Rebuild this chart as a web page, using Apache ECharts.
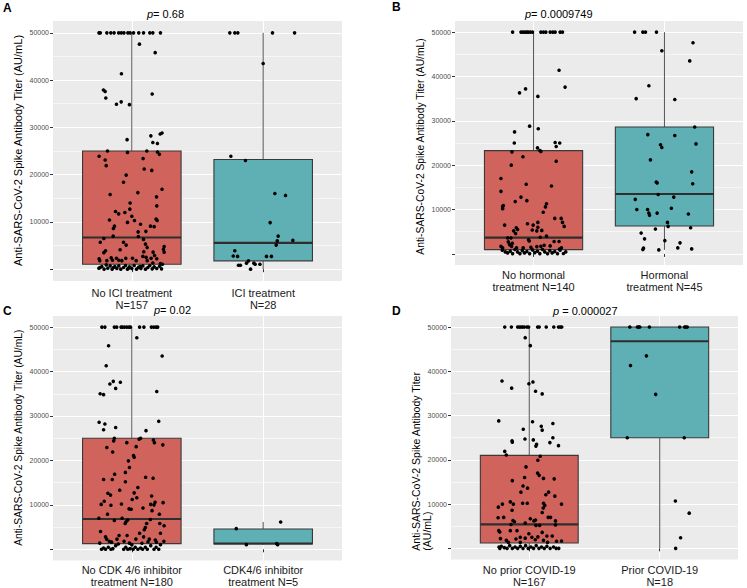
<!DOCTYPE html>
<html><head><meta charset="utf-8">
<script src="https://cdn.jsdelivr.net/npm/echarts@6/dist/echarts.min.js"></script>
<style>html,body{margin:0;padding:0;background:#fff}#c{width:747px;height:588px}</style>
</head><body><div id="c"></div>
<script>
// ---------- DATA ----------
const catsA = ['No ICI treatment\nN=157', 'ICI treatment\nN=28'];
const catsB = ['No hormonal\ntreatment N=140', 'Hormonal\ntreatment N=45'];
const catsC = ['No CDK 4/6 inhibitor\ntreatment N=180', 'CDK4/6 inhibitor\ntreatment N=5'];
const catsD = ['No prior COVID-19\nN=167', 'Prior COVID-19\nN=18'];
const pTexts = ['0.68', '0.0009749', '0.02', '0.000027'];
const yTicks = [0, 10000, 20000, 30000, 40000, 50000];
const yTickLabels = ['', '10000', '20000', '30000', '40000', '50000'];
const yMinor = [5000, 15000, 25000, 35000, 45000];
// box stats: [lower, q1, median, q3, upper] per group
const boxA = [[0, 1050, 6700, 25000, 50000], [0, 1760, 5560, 23200, 50000]];
const boxB = [[0, 975, 3680, 23270, 50000], [900, 6300, 13500, 28600, 50000]];
const boxC = [[0, 1270, 6820, 25000, 50000], [1050, 1200, 1300, 4570, 6150]];
const boxD = [[0, 1200, 5400, 21000, 50000], [0, 25000, 46800, 50000, 50000]];
// jittered points: [horizontal jitter (category units), titer]
const ptsA1 = [[-0.25,50000],[-0.24,50000],[-0.19,50000],[-0.16,50000],[-0.135,50000],[-0.1,50000],[-0.08,50000],[-0.06,50000],[-0.03,50000],[-0.013,50000],[0.013,50000],[0.053,50000],[0.089,50000],[0.137,50000],[0.16,50000],[0.218,50000],
[0.058,47600],[0.178,45800],[-0.079,41350],[-0.216,37900],[-0.203,37600],[-0.198,36200],[0.155,37060],[-0.117,34900],[-0.081,35400],[-0.018,34800],[-0.036,27400],[0.145,28200],[0.16,26800],[0.195,26600],[0.216,28600],[0.23,28800],
[-0.185,25000],[-0.033,24700],[0.114,25000],[0.195,24800],[0.21,24300],[-0.249,23900],[-0.203,23100],[-0.195,21900],[0.086,23400],[0.094,21200],[0.152,20900],[-0.043,19900],[-0.063,18400],[0.23,16900],[0.046,16200],[-0.165,15800],
[0.188,15300],[0.19,13400],[-0.013,14000],[-0.015,12700],[-0.124,12200],[-0.1,11700],[-0.053,12000],[0,11200],[-0.17,10400],[0.02,10300],[-0.033,9900],[0.185,10600],[0.193,10300],[-0.132,9100],[-0.14,8600],[0.066,9500],
[0.142,9100],[0.17,9000],[0.107,8000],[0.048,7900],[-0.142,7000],[0.05,6900],[-0.213,6500],[-0.24,5700],[-0.063,5700],[-0.043,5100],[0.089,6300],[0.104,5300],[0.117,4600],[0.246,4800],[0.241,4200],[-0.2,3900],
[-0.213,3500],[-0.089,4100],[0.091,3700],[0.162,3600],[0.173,2900],[0.246,3600],[-0.249,2200],[-0.244,1800],[-0.19,1800],[-0.157,2400],[-0.147,1900],[-0.117,2300],[-0.099,1900],[-0.046,2300],[0.005,2300],[0.033,1800],
[0.084,2700],[0.109,2500],[0.147,2300],[0.19,2200],[0.218,1200],[0.233,1050],[-0.076,1800],[0.117,1800],[0.16,1300],
[-0.251,210],[-0.228,560],[-0.211,0],[-0.195,910],[-0.183,210],[-0.165,700],[-0.15,0],[-0.129,560],[-0.114,140],[-0.099,700],[-0.084,0],[-0.063,350],[-0.048,770],[-0.033,0],[-0.018,490],[0,140],
[0.018,770],[0.036,0],[0.051,420],[0.069,140],[0.084,700],[0.104,0],[0.122,350],[0.137,770],[0.155,70],[0.17,490],[0.19,140],[0.211,630],[0.226,70],[-0.241,350],[-0.14,350],[-0.025,210],[0.063,560]];
const ptsA2 = [[-0.254,50000],[-0.216,50000],[-0.193,50000],[0.071,50000],[0.239,50000],[0,43500],[-0.246,23900],[-0.135,23000],[0.089,16000],[0.17,15600],[0.053,9850],[0.114,7000],[0.107,6000],[0.099,5100],[0.226,6100],
[-0.216,3900],[-0.228,2800],[-0.195,2700],[0.025,2700],[0.063,2700],[-0.188,840],[-0.173,840],[-0.127,1270],[-0.112,1760],[-0.071,1270],[-0.061,1050],[-0.096,0],[-0.025,1050]];
const ptsB1 = [[-0.16,50000],[-0.096,50000],[-0.081,50000],[-0.066,50000],[-0.051,50000],[-0.041,50000],[-0.025,50000],[-0.008,50000],[0.056,50000],[0.076,50000],[0.094,50000],[0.127,50000],[0.147,50000],[0.165,50000],[0.203,50000],[0.221,50000],
[0.195,41400],[0.241,37600],[-0.107,36300],[-0.061,37200],[0.033,35500],[-0.03,28800],[0.036,28200],[-0.145,27500],[-0.147,25000],[0.165,25100],[0.2,25000],[0.173,24200],[0.03,23900],[0.048,23300],[0.056,23100],[-0.165,23000],
[-0.081,21900],[0.173,20900],[-0.17,20000],[-0.249,17000],[-0.249,14100],[0.137,15300],[-0.056,15700],[-0.14,11800],[-0.051,12000],[-0.096,12800],[0.099,11300],[0.091,10600],[-0.231,10900],[-0.236,10200],[-0.236,10700],[0.074,9400],
[0.162,8000],[0.211,8000],[0.221,7100],[0.234,6200],[-0.046,6800],[0.033,7100],[-0.221,6500],[-0.132,5900],[-0.003,6500],[0.033,6000],[-0.01,5400],[0.025,5200],[0.063,5300],[-0.122,5500],[-0.152,5200],[-0.137,4600],
[-0.198,3600],[-0.173,3600],[-0.038,3200],[-0.033,2900],[0.099,4000],[0.051,3750],[0.157,2800],[0.195,2800],[-0.193,2700],[-0.162,2400],[-0.183,2100],[-0.249,1700],[-0.236,1350],[-0.168,1700],[-0.13,1350],[-0.079,1350],
[-0.02,1500],[0.025,1650],[0.056,1700],[0.081,1950],[0.127,1800],[0.213,1400],[0.198,1100],
[-0.239,830],[-0.216,450],[-0.198,230],[-0.178,600],[-0.16,75],[-0.142,980],[-0.122,450],[-0.104,75],[-0.086,750],[-0.069,230],[-0.051,530],[-0.03,75],[-0.008,900],[0.01,300],[0.03,600],[0.048,75],
[0.069,980],[0.086,450],[0.107,75],[0.124,750],[0.142,230],[0.162,530],[0.183,75],[0.203,830],[0.228,100],[0.246,450]];
const ptsB2 = [[-0.228,50000],[-0.165,50000],[-0.145,50000],[-0.061,50000],[0.218,47600],[-0.02,45800],[0.193,43500],[-0.119,37900],[-0.216,35000],[0.079,34800],[-0.127,26900],[0.079,26700],[0.231,28600],[0.241,24800],[-0.03,24600],
[-0.02,24000],[-0.107,21200],[0.208,18500],[0.216,15800],[-0.063,16200],[-0.056,16000],[-0.048,13400],[0.071,12800],[-0.223,12300],[-0.211,10000],[-0.129,10000],[-0.119,9200],[-0.114,8700],[-0.056,9200],[0.053,10300],
[0.183,9000],[0.023,7100],[0.028,6200],[-0.069,5600],[0.2,5900],[-0.178,4700],[-0.152,3400],[0.003,3000],[0.119,2500],[0.102,1350],[-0.16,1300],[-0.165,980],[-0.043,900],[0.208,1130]];
const ptsC1 = [[-0.228,50000],[-0.205,50000],[-0.133,50000],[-0.115,50000],[-0.082,50000],[-0.072,50000],[-0.056,50000],[-0.038,50000],[-0.021,50000],[-0.01,50000],[0.059,50000],[0.092,50000],[0.149,50000],[0.167,50000],[0.185,50000],[0.197,50000],
[0.038,47600],[-0.177,45800],[0.231,43500],[-0.195,41300],[-0.141,37800],[-0.167,37200],[-0.087,37600],[-0.123,36200],[-0.241,35000],[-0.215,34800],[0.19,35500],[-0.249,28600],[-0.205,28200],[0.205,28800],[-0.123,27400],[-0.215,26900],
[0.108,26700],[-0.133,25000],[-0.138,24400],[0.056,24800],[0.067,25000],[0.164,24600],[0.172,24000],[-0.038,24000],[-0.19,22900],[-0.146,21900],[0.033,23100],[0.013,21100],[0.018,20700],[0.236,23500],[-0.026,19900],[-0.018,18400],
[-0.049,17300],[-0.131,16900],[-0.149,15700],[-0.215,15700],[0.105,16200],[0.162,16000],[-0.049,15200],[0.046,13900],[-0.092,13300],[-0.182,12600],[-0.162,12200],[0.018,12700],[0.038,11600],[0.003,11200],[0.151,12000],[-0.21,10800],
[-0.233,10100],[-0.159,9900],[-0.079,10200],[0.144,10100],[0.169,10000],[0.238,10500],[0.177,10600],[-0.021,9100],[-0.005,9000],[0.085,9300],[0.154,8700],[0.21,7900],[-0.185,7900],[-0.251,7000],[-0.074,7000],[-0.044,6200],
[-0.031,6600],[-0.133,6500],[0.141,6700],[0.113,5800],[0.213,5800],[0.246,5300],[-0.051,5800],[-0.238,4000],[-0.097,3100],[-0.036,3100],[0.103,4900],[0.095,4400],[0.218,3600],[0.059,3600],[0.09,2800],[-0.2,2800],
[-0.192,2300],[-0.113,2300],[0.031,2300],[0.133,2300],[0.179,2100],[-0.244,1400],[-0.172,1800],[-0.154,1600],[-0.103,1200],[-0.059,1800],[-0.018,1400],[0,1050],[0.077,1350],[0.123,1700],[0.187,1600],[0.218,1050],[0.244,1800],
[-0.231,0],[-0.215,300],[-0.2,0],[-0.179,450],[-0.159,0],[-0.144,150],[-0.123,820],[-0.062,0],[-0.046,450],[-0.031,0],[-0.013,150],[0.01,0],[0.026,450],[0.046,0],[0.067,300],[0.082,0],[0.103,450],[0.118,0],[0.144,820],[0.169,0],[0.185,450],[0.205,0]];
const ptsC2 = [[0.133,6150],[-0.205,4650],[-0.128,1050],[0.103,1270],[0.11,1050]];
const ptsD1 = [[-0.188,50000],[-0.137,50000],[-0.089,50000],[-0.076,50000],[-0.064,50000],[-0.051,50000],[-0.038,50000],[-0.018,50000],[-0.005,50000],[0.064,50000],[0.076,50000],[0.13,50000],[0.188,50000],[0.224,50000],[0.237,50000],[0.249,50000],
[-0.031,47600],[0.008,45800],[-0.209,37800],[-0.135,36200],[-0.003,37200],[0.028,37600],[0.048,35500],[0.099,34900],[-0.234,28800],[0.025,28600],[0.181,28200],[-0.046,26900],[0.092,27600],[0.099,26700],[-0.033,24700],[0.031,24500],
[0.181,25000],[0.158,23900],[-0.132,24300],[-0.13,24000],[0.056,23500],[0.051,23100],[0.224,23200],[-0.188,21900],[-0.176,21100],[0.084,20800],[0.066,19900],[-0.025,18400],[-0.13,15300],[-0.036,16000],[0.064,17000],[0.076,16500],
[0.109,15800],[0.191,15700],[-0.013,13600],[-0.048,14100],[0.148,12700],[-0.064,12700],[0.127,12100],[0.196,11800],[0.109,10200],[0.119,9700],[0.247,10000],[-0.015,10200],[-0.051,10200],[-0.122,10000],[-0.145,10500],[-0.206,10000],
[-0.237,9300],[-0.132,8600],[0.107,9100],[0.099,8100],[-0.196,7000],[-0.239,6900],[0.145,7000],[0.163,7000],[0.008,6700],[0.036,6200],[0.048,6400],[-0.125,6300],[-0.114,6000],[-0.031,5700],[0.201,6200],[0.201,5300],
[0.051,5200],[0.079,5200],[-0.14,5400],[-0.226,3700],[-0.234,4000],[-0.145,4000],[-0.094,4000],[0.099,3600],[0.135,2800],[0.176,2800],[-0.003,3300],[0.02,2500],[0.066,2600],[-0.069,2500],[-0.221,2200],[-0.176,1800],
[-0.102,2100],[-0.031,2300],[0.046,1950],[0.109,1800],[0.209,1600],[0.247,1650],[0.14,1350],[-0.16,1350],[-0.069,1350],
[-0.226,0],[-0.214,450],[-0.191,150],[-0.17,0],[-0.15,600],[-0.13,0],[-0.109,300],[-0.089,0],[-0.069,450],[-0.048,0],[-0.028,600],[-0.008,0],[0.013,300],[0.033,0],[0.053,600],[0.074,0],[0.094,300],[0.115,0],[0.135,450],[0.160,0],[0.186,300],[0.206,0],[0.226,0],[-0.232,300]];
const ptsD2 = [[-0.229,50000],[-0.171,50000],[-0.153,50000],[-0.079,50000],[0.153,50000],[0.191,50000],[0.211,50000],[-0.16,50000],[0.2,50000],
[-0.102,43500],[-0.224,41300],[-0.031,34800],[-0.249,25000],[0.188,25000],[0.12,10700],[0.226,7950],[0.16,2400],[0.122,0]];

// ---------- LAYOUT / STYLE ----------
const FONT = '"Liberation Sans", Arial, sans-serif';
const RED = '#d0635b', TEAL = '#5fb0b5';
const panels = [
  {cats: catsA, box: boxA, pts: [ptsA1, ptsA2], grid: {left: 53, top: 21, width: 289, height: 260}, lblMargin: 6},
  {cats: catsB, box: boxB, pts: [ptsB1, ptsB2], grid: {left: 455, top: 21, width: 288, height: 244}, lblMargin: 4},
  {cats: catsC, box: boxC, pts: [ptsC1, ptsC2], grid: {left: 53, top: 316, width: 289, height: 245}, lblMargin: 3},
  {cats: catsD, box: boxD, pts: [ptsD1, ptsD2], grid: {left: 451, top: 316, width: 287, height: 245}, lblMargin: 4}
];

const grids = [], xAxes = [], yAxes = [], series = [];
panels.forEach((p, i) => {
  grids.push(Object.assign({show: true, backgroundColor: '#ebebeb', borderWidth: 0}, p.grid));
  xAxes.push({
    type: 'value', gridIndex: i, min: 0.4, max: 2.6,
    axisLine: {show: false},
    axisTick: {show: true, customValues: [1, 2], length: 3, lineStyle: {color: '#333', width: 1}},
    axisLabel: {show: true, customValues: [1, 2], margin: p.lblMargin, color: '#1a1a1a', fontSize: 11, lineHeight: 12.3, fontFamily: FONT,
      formatter: v => p.cats[Math.round(v) - 1] || ''},
    splitLine: {show: true, lineStyle: {color: '#ffffff', width: 1.1}}
  });
  yAxes.push({
    type: 'value', gridIndex: i, min: -2500, max: 52500,
    axisLine: {show: false},
    axisTick: {show: true, customValues: yTicks, length: 3, lineStyle: {color: '#333', width: 1}},
    axisLabel: {show: true, customValues: yTicks, margin: 4, color: '#4d4d4d', fontSize: 7, fontFamily: FONT,
      formatter: v => yTickLabels[yTicks.indexOf(v)] ?? ''},
    splitLine: {show: true, lineStyle: {color: '#ffffff', width: 1.1}}
  });
  yAxes.push({
    type: 'value', gridIndex: i, min: -2500, max: 52500, position: 'left',
    axisLine: {show: false},
    axisTick: {show: false, customValues: yMinor},
    axisLabel: {show: false, customValues: yMinor},
    splitLine: {show: true, lineStyle: {color: '#ffffff', width: 0.55}}
  });
  const yIdx = i * 2;
  series.push({
    type: 'custom', xAxisIndex: i, yAxisIndex: yIdx, z: 2,
    encode: {x: 0, y: [1, 2, 3, 4, 5]},
    data: p.box.map((b, k) => [k + 1].concat(b).concat([k])),
    renderItem: (params, api) => {
      const x = api.value(0);
      const lo = api.coord([x, api.value(1)]), q1 = api.coord([x, api.value(2)]), md = api.coord([x, api.value(3)]),
            q3 = api.coord([x, api.value(4)]), hi = api.coord([x, api.value(5)]);
      const w = api.size([0.75, 0])[0];
      const fill = api.value(6) === 0 ? RED : TEAL;
      return {type: 'group', children: [
        {type: 'line', shape: {x1: q3[0], y1: q3[1], x2: hi[0], y2: hi[1]}, style: {stroke: '#555', lineWidth: 1}},
        {type: 'line', shape: {x1: lo[0], y1: lo[1], x2: q1[0], y2: q1[1]}, style: {stroke: '#555', lineWidth: 1}},
        {type: 'rect', shape: {x: q3[0] - w / 2, y: q3[1], width: w, height: q1[1] - q3[1]}, style: {fill: fill, stroke: '#3a3a3a', lineWidth: 1.1}},
        {type: 'line', shape: {x1: md[0] - w / 2, y1: md[1], x2: md[0] + w / 2, y2: md[1]}, style: {stroke: '#2e2e2e', lineWidth: 2.2}}
      ]};
    }
  });
  p.pts.forEach((arr, k) => {
    series.push({
      type: 'scatter', xAxisIndex: i, yAxisIndex: yIdx, z: 3, symbolSize: 3.6, silent: true,
      itemStyle: {color: '#000', opacity: 1},
      data: arr.map(d => [k + 1 + d[0], d[1]])
    });
  });
});

const txt = (x, y, text, extra) => ({type: 'text', x: x, y: y, silent: true,
  style: Object.assign({text: text, fontFamily: FONT, fill: '#000'}, extra)});
const richP = {p: {fontStyle: 'italic', fontSize: 11, fontFamily: FONT, fill: '#000'}};
const graphics = [
  txt(3, 8, 'A', {fontSize: 12, fontWeight: 'bold', verticalAlign: 'middle'}),
  txt(392, 7, 'B', {fontSize: 12, fontWeight: 'bold', verticalAlign: 'middle'}),
  txt(3, 311, 'C', {fontSize: 12, fontWeight: 'bold', verticalAlign: 'middle'}),
  txt(392, 311, 'D', {fontSize: 12, fontWeight: 'bold', verticalAlign: 'middle'}),
  txt(147, 14, '{p|p}= ' + pTexts[0], {fontSize: 11, verticalAlign: 'middle', rich: richP}),
  txt(525, 14, '{p|p}= ' + pTexts[1], {fontSize: 11, verticalAlign: 'middle', rich: richP}),
  txt(154, 310, '{p|p}= ' + pTexts[2], {fontSize: 11, verticalAlign: 'middle', rich: richP}),
  txt(553, 311, '{p|p} = ' + pTexts[3], {fontSize: 11, verticalAlign: 'middle', rich: richP}),
  Object.assign(txt(18, 150.5, 'Anti-SARS-CoV-2 Spike Antibody Titer (AU/mL)', {fontSize: 11, align: 'center', verticalAlign: 'middle'}), {rotation: Math.PI / 2}),
  Object.assign(txt(420.7, 146.5, 'Anti-SARS-CoV-2 Spike Antibody Titer (AU/mL)', {fontSize: 10.3, align: 'center', verticalAlign: 'middle'}), {rotation: Math.PI / 2}),
  Object.assign(txt(18.3, 437.7, 'Anti-SARS-CoV-2 Spike Antibody Titer (AU/mL)', {fontSize: 10.3, align: 'center', verticalAlign: 'middle'}), {rotation: Math.PI / 2}),
  Object.assign(txt(410, 550.7, 'Anti-SARS-CoV-2 Spike Antibody Titer\n(AU/mL)', {fontSize: 10.5, lineHeight: 11.6, align: 'left', verticalAlign: 'top'}), {rotation: Math.PI / 2})
];

const chart = echarts.init(document.getElementById('c'), null, {renderer: 'svg'});
chart.setOption({
  backgroundColor: '#ffffff',
  animation: false,
  textStyle: {fontFamily: FONT},
  grid: grids, xAxis: xAxes, yAxis: yAxes, series: series,
  graphic: graphics
});
</script>
</body></html>
